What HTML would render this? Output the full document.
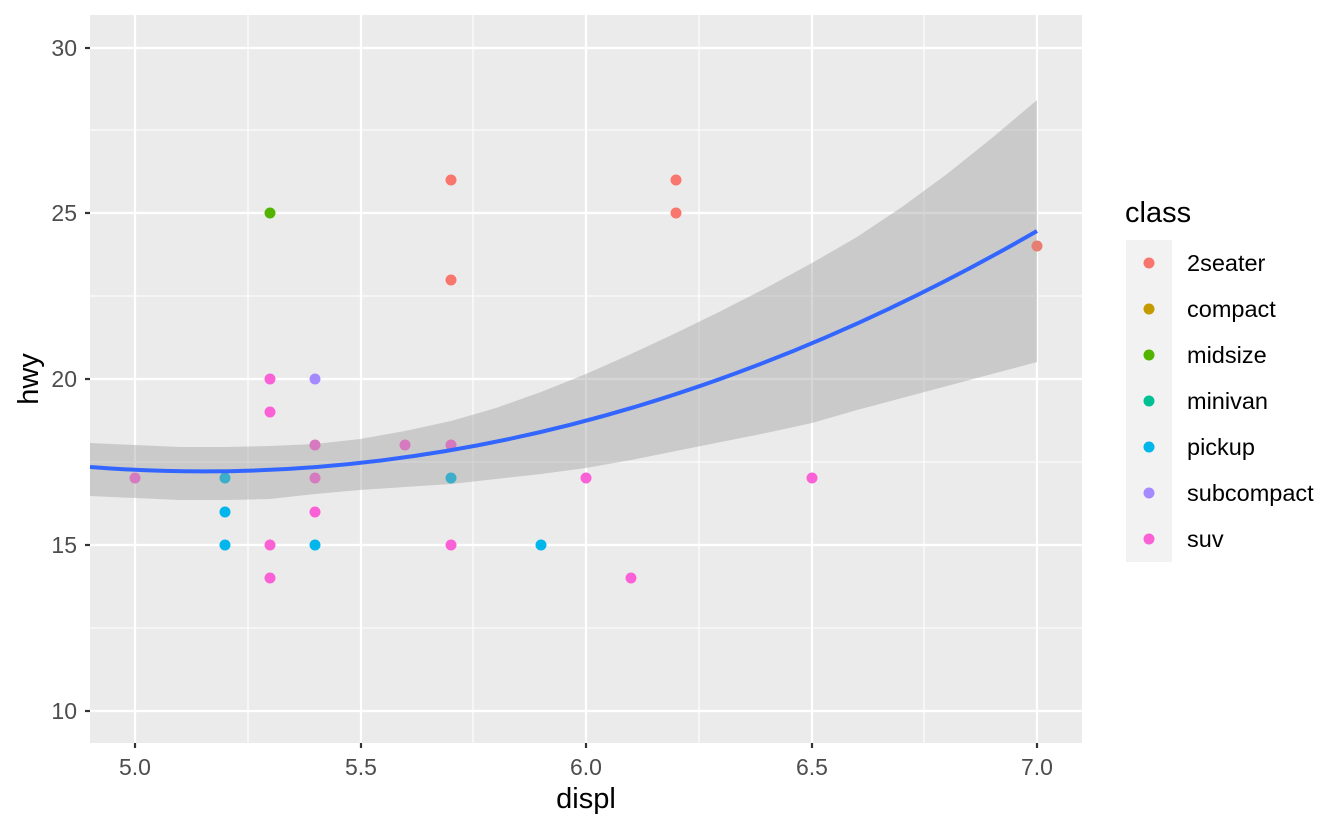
<!DOCTYPE html>
<html><head><meta charset="utf-8"><style>
body{margin:0;background:#fff}
svg text{font-family:"Liberation Sans",sans-serif}
</style></head><body>
<svg width="1344" height="830" viewBox="0 0 1344 830" xmlns="http://www.w3.org/2000/svg">
<rect x="90" y="15" width="992" height="728" fill="#EBEBEB"/>
<g stroke="#fff" stroke-width="1.1">
<line x1="90" x2="1082" y1="130" y2="130"/><line x1="90" x2="1082" y1="296" y2="296"/>
<line x1="90" x2="1082" y1="462" y2="462"/><line x1="90" x2="1082" y1="628" y2="628"/>
<line y1="15" y2="743" x1="248" x2="248"/><line y1="15" y2="743" x1="473" x2="473"/>
<line y1="15" y2="743" x1="699" x2="699"/><line y1="15" y2="743" x1="924" x2="924"/>
</g>
<g stroke="#fff" stroke-width="2.2">
<line x1="90" x2="1082" y1="48" y2="48"/><line x1="90" x2="1082" y1="213" y2="213"/>
<line x1="90" x2="1082" y1="379" y2="379"/><line x1="90" x2="1082" y1="545" y2="545"/>
<line x1="90" x2="1082" y1="711" y2="711"/>
<line y1="15" y2="743" x1="135" x2="135"/><line y1="15" y2="743" x1="361" x2="361"/>
<line y1="15" y2="743" x1="586" x2="586"/><line y1="15" y2="743" x1="812" x2="812"/>
<line y1="15" y2="743" x1="1037" x2="1037"/>
</g>
<path d="M90,443 L135,445 L180,447 L225,447 L270,446 L315,444 L360,439 L405,431 L451,421 L496,408 L541,392 L586,374 L631,354 L676,333 L721,311 L766,288 L812,263 L857,237 L902,207 L947,174 L992,138 L1037,100 L1037,362 L992,374 L947,386 L902,398 L857,410 L812,423 L766,433 L721,442 L676,451 L631,460 L586,468 L541,474 L496,479 L451,484 L405,487 L360,490 L315,494 L270,499 L225,500 L180,500 L135,498 L90,496 Z" fill="#999" fill-opacity="0.4"/>
<g>
<circle cx="451" cy="180" r="5.5" fill="#F8766D"/><circle cx="676" cy="180" r="5.5" fill="#F8766D"/>
<circle cx="676" cy="213" r="5.5" fill="#F8766D"/><circle cx="451" cy="280" r="5.5" fill="#F8766D"/>
<circle cx="1037" cy="246" r="5.5" fill="#E67F72"/>
<circle cx="270" cy="213" r="5.5" fill="#53B400"/>
<circle cx="315" cy="379" r="5.5" fill="#A58AFF"/>
<circle cx="270" cy="379" r="5.5" fill="#FB61D7"/><circle cx="270" cy="412" r="5.5" fill="#FB61D7"/>
<circle cx="315" cy="445" r="5.5" fill="#D57ABF"/><circle cx="405" cy="445" r="5.5" fill="#D57ABF"/>
<circle cx="451" cy="445" r="5.5" fill="#D57ABF"/><circle cx="135" cy="478" r="5.5" fill="#D57ABF"/>
<circle cx="315" cy="478" r="5.5" fill="#D57ABF"/><circle cx="586" cy="478" r="5.5" fill="#FB61D7"/>
<circle cx="812" cy="478" r="5.5" fill="#FB61D7"/><circle cx="315" cy="512" r="5.5" fill="#FB61D7"/>
<circle cx="270" cy="545" r="5.5" fill="#FB61D7"/><circle cx="451" cy="545" r="5.5" fill="#FB61D7"/>
<circle cx="270" cy="578" r="5.5" fill="#FB61D7"/><circle cx="631" cy="578" r="5.5" fill="#FB61D7"/>
<circle cx="225" cy="478" r="5.5" fill="#3DAECA"/><circle cx="451" cy="478" r="5.5" fill="#3DAECA"/>
<circle cx="225" cy="512" r="5.5" fill="#00B6EB"/><circle cx="225" cy="545" r="5.5" fill="#00B6EB"/>
<circle cx="315" cy="545" r="5.5" fill="#00B6EB"/><circle cx="541" cy="545" r="5.5" fill="#00B6EB"/>
</g>
<path d="M90,467 Q563.5,504 1037,231" fill="none" stroke="#3366FF" stroke-width="4"/>
<g stroke="#333" stroke-width="2.2">
<line x1="85" x2="90" y1="48" y2="48"/><line x1="85" x2="90" y1="213" y2="213"/>
<line x1="85" x2="90" y1="379" y2="379"/><line x1="85" x2="90" y1="545" y2="545"/>
<line x1="85" x2="90" y1="711" y2="711"/>
<line y1="743" y2="748" x1="135" x2="135"/><line y1="743" y2="748" x1="361" x2="361"/>
<line y1="743" y2="748" x1="586" x2="586"/><line y1="743" y2="748" x1="812" x2="812"/>
<line y1="743" y2="748" x1="1037" x2="1037"/>
</g>
<g fill="#4D4D4D" font-size="23" text-anchor="end">
<text x="77" y="56">30</text><text x="77" y="221">25</text><text x="77" y="387">20</text>
<text x="77" y="553">15</text><text x="77" y="719">10</text>
</g>
<g fill="#4D4D4D" font-size="23" text-anchor="middle">
<text x="135" y="775">5.0</text><text x="361" y="775">5.5</text><text x="586" y="775">6.0</text>
<text x="812" y="775">6.5</text><text x="1037" y="775">7.0</text>
</g>
<text x="586" y="808" font-size="29" text-anchor="middle">displ</text>
<text transform="translate(38,379) rotate(-90)" font-size="29" text-anchor="middle">hwy</text>
<text x="1125" y="222" font-size="29">class</text>
<rect x="1126" y="240" width="46" height="322" fill="#F2F2F2"/>
<g font-size="23.5" fill="#000">
<circle cx="1149" cy="263" r="5.5" fill="#F8766D"/><text x="1187" y="271">2seater</text>
<circle cx="1149" cy="309" r="5.5" fill="#C49A00"/><text x="1187" y="317">compact</text>
<circle cx="1149" cy="355" r="5.5" fill="#53B400"/><text x="1187" y="363">midsize</text>
<circle cx="1149" cy="401" r="5.5" fill="#00C094"/><text x="1187" y="409">minivan</text>
<circle cx="1149" cy="447" r="5.5" fill="#00B6EB"/><text x="1187" y="455">pickup</text>
<circle cx="1149" cy="493" r="5.5" fill="#A58AFF"/><text x="1187" y="501">subcompact</text>
<circle cx="1149" cy="539" r="5.5" fill="#FB61D7"/><text x="1187" y="547">suv</text>
</g>
</svg>
</body></html>
